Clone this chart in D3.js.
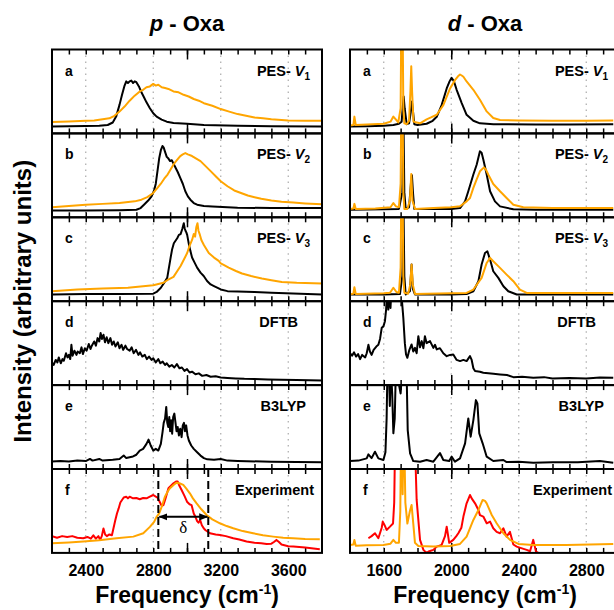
<!DOCTYPE html>
<html>
<head>
<meta charset="utf-8">
<script src="https://cdn.jsdelivr.net/npm/d3@7"></script>
<style>
  body { margin: 0; background: #fff; }
  text { font-family: "Liberation Sans", Arial, Helvetica, sans-serif; font-weight: bold; fill: #000; }
</style>
</head>
<body>
<svg id="chart" width="614" height="610"></svg>
<script>
// ---- values: [frequency cm-1, relative intensity in panel] ----
var p_a_black = [[2200,.083],[2300,.085],[2400,.087],[2480,.09],[2530,.1],[2560,.13],[2580,.2],[2600,.34],[2615,.46],[2630,.57],[2640,.62],[2650,.6],[2660,.62],[2670,.63],[2680,.6],[2690,.62],[2700,.61],[2715,.56],[2730,.49],[2745,.43],[2760,.37],[2780,.3],[2800,.24],[2820,.2],[2850,.165],[2880,.14],[2920,.125],[3000,.115],[3100,.1],[3300,.09],[3500,.085],[3800,.083]];
var p_a_orange = [[2200,.135],[2300,.143],[2400,.15],[2450,.155],[2500,.17],[2540,.18],[2570,.21],[2600,.26],[2630,.32],[2660,.39],[2690,.45],[2720,.5],[2740,.52],[2760,.55],[2780,.56],[2800,.59],[2815,.57],[2830,.58],[2850,.55],[2870,.54],[2890,.53],[2920,.5],[2950,.49],[2980,.46],[3010,.44],[3040,.41],[3070,.39],[3100,.36],[3150,.33],[3200,.29],[3250,.26],[3300,.23],[3350,.21],[3400,.19],[3450,.18],[3500,.17],[3600,.155],[3700,.15],[3800,.15]];
var p_b_black = [[2200,.08],[2400,.08],[2600,.085],[2700,.09],[2725,.11],[2745,.15],[2770,.2],[2790,.25],[2805,.32],[2815,.4],[2825,.55],[2835,.7],[2845,.8],[2855,.85],[2862,.83],[2870,.78],[2880,.72],[2890,.7],[2900,.67],[2910,.68],[2920,.64],[2930,.6],[2945,.54],[2960,.47],[2975,.4],[2990,.31],[3005,.25],[3020,.21],[3040,.17],[3060,.15],[3100,.135],[3150,.13],[3300,.115],[3500,.11],[3800,.11]];
var p_b_orange = [[2200,.12],[2300,.135],[2400,.15],[2500,.16],[2600,.17],[2690,.19],[2730,.21],[2765,.24],[2800,.29],[2825,.35],[2845,.4],[2865,.46],[2885,.51],[2900,.56],[2920,.63],[2940,.68],[2960,.73],[2975,.75],[2990,.765],[3005,.75],[3030,.73],[3055,.7],[3080,.67],[3110,.61],[3140,.55],[3170,.49],[3200,.43],[3240,.37],[3280,.32],[3320,.29],[3360,.26],[3400,.24],[3440,.22],[3500,.2],[3560,.185],[3630,.175],[3700,.165],[3800,.155]];
var p_c_black = [[2200,.08],[2400,.085],[2600,.085],[2800,.09],[2820,.11],[2845,.16],[2865,.22],[2883,.28],[2893,.4],[2903,.52],[2912,.62],[2922,.69],[2932,.72],[2942,.75],[2952,.79],[2962,.8],[2972,.86],[2981,.93],[2986,.87],[2991,.84],[2996,.82],[3001,.79],[3011,.68],[3020,.6],[3030,.52],[3045,.46],[3060,.4],[3080,.34],[3099,.3],[3119,.24],[3140,.2],[3160,.18],[3200,.14],[3240,.12],[3300,.115],[3400,.11],[3500,.1],[3800,.08]];
var p_c_orange = [[2200,.12],[2350,.14],[2500,.15],[2650,.16],[2800,.19],[2860,.22],[2883,.25],[2920,.29],[2962,.42],[2990,.53],[3001,.575],[3015,.66],[3030,.73],[3040,.8],[3048,.77],[3055,.88],[3062,.93],[3068,.84],[3075,.8],[3085,.73],[3100,.67],[3129,.575],[3160,.52],[3188,.48],[3200,.45],[3220,.43],[3247,.4],[3290,.36],[3326,.33],[3380,.3],[3444,.27],[3500,.25],[3562,.23],[3650,.22],[3800,.21]];
var p_d_dftb = [[2200,.27],[2210,.24],[2222,.3],[2232,.27],[2240,.33],[2252,.26],[2262,.31],[2270,.29],[2283,.38],[2292,.33],[2300,.36],[2308,.31],[2315,.48],[2322,.35],[2333,.41],[2345,.36],[2352,.4],[2365,.38],[2375,.45],[2383,.37],[2395,.44],[2405,.41],[2418,.49],[2428,.43],[2436,.47],[2450,.52],[2460,.47],[2470,.56],[2480,.52],[2488,.62],[2496,.55],[2505,.6],[2514,.51],[2524,.57],[2534,.5],[2546,.56],[2556,.48],[2566,.52],[2576,.46],[2590,.51],[2600,.44],[2612,.48],[2622,.42],[2635,.47],[2645,.43],[2660,.41],[2672,.45],[2684,.38],[2698,.42],[2712,.36],[2722,.39],[2735,.34],[2750,.36],[2762,.31],[2775,.34],[2790,.3],[2800,.32],[2815,.27],[2830,.31],[2842,.26],[2856,.28],[2870,.24],[2880,.26],[2895,.22],[2910,.24],[2925,.21],[2940,.25],[2955,.2],[2970,.21],[2985,.17],[3000,.19],[3015,.15],[3030,.16],[3050,.13],[3070,.14],[3090,.11],[3115,.12],[3140,.1],[3170,.105],[3200,.09],[3240,.085],[3290,.08],[3340,.075],[3400,.072],[3480,.068],[3560,.064],[3650,.06],[3800,.056]];
var p_e_b3lyp = [[2200,.09],[2250,.095],[2300,.09],[2350,.1],[2400,.095],[2425,.12],[2440,.1],[2480,.12],[2500,.1],[2560,.11],[2600,.12],[2625,.16],[2640,.13],[2680,.15],[2700,.17],[2720,.22],[2740,.24],[2760,.3],[2772,.35],[2785,.28],[2800,.22],[2815,.24],[2830,.22],[2845,.3],[2855,.44],[2862,.55],[2870,.6],[2877,.74],[2883,.55],[2889,.5],[2895,.62],[2900,.45],[2906,.58],[2912,.42],[2918,.62],[2925,.66],[2932,.55],[2938,.45],[2945,.5],[2952,.4],[2960,.48],[2968,.38],[2975,.52],[2982,.55],[2988,.45],[2995,.52],[3003,.4],[3011,.34],[3025,.28],[3040,.24],[3060,.2],[3080,.16],[3100,.13],[3120,.115],[3160,.11],[3200,.12],[3240,.1],[3300,.095],[3500,.087],[3800,.08]];
var p_f_red = [[2200,.2],[2230,.18],[2260,.2],[2290,.19],[2320,.2],[2350,.18],[2385,.175],[2410,.19],[2430,.17],[2445,.21],[2460,.17],[2475,.2],[2485,.155],[2495,.2],[2505,.29],[2515,.22],[2525,.2],[2540,.22],[2555,.21],[2565,.3],[2575,.39],[2585,.47],[2595,.53],[2605,.6],[2615,.63],[2625,.66],[2640,.67],[2650,.65],[2660,.67],[2680,.65],[2700,.655],[2720,.64],[2740,.655],[2760,.65],[2780,.67],[2800,.69],[2815,.67],[2825,.66],[2840,.6],[2850,.56],[2860,.57],[2870,.63],[2880,.7],[2890,.77],[2905,.8],[2920,.83],[2935,.85],[2945,.85],[2955,.8],[2968,.75],[2985,.68],[3000,.61],[3015,.58],[3027,.57],[3040,.47],[3050,.43],[3060,.38],[3068,.36],[3078,.39],[3088,.33],[3100,.29],[3110,.27],[3136,.234],[3170,.22],[3195,.214],[3230,.2],[3274,.175],[3310,.16],[3353,.135],[3400,.12],[3440,.115],[3472,.107],[3500,.11],[3515,.13],[3530,.155],[3545,.13],[3560,.1],[3600,.08],[3630,.075],[3700,.065],[3787,.044]];
var p_f_orange = [[2200,.115],[2300,.125],[2385,.135],[2480,.15],[2582,.175],[2682,.194],[2741,.234],[2780,.31],[2805,.37],[2820,.43],[2835,.47],[2850,.55],[2869,.67],[2885,.73],[2899,.77],[2920,.81],[2938,.837],[2955,.83],[2978,.81],[2995,.77],[3017,.71],[3035,.65],[3057,.59],[3085,.52],[3116,.452],[3150,.4],[3195,.353],[3235,.32],[3274,.294],[3330,.26],[3392,.234],[3450,.21],[3511,.194],[3570,.18],[3629,.175],[3700,.165],[3787,.163]];

var d_a_black = [[1400,.083],[1500,.085],[1600,.09],[1657,.1],[1690,.115],[1706,.14],[1712,.3],[1718,.44],[1724,.3],[1736,.11],[1750,.12],[1760,.25],[1767,.38],[1774,.25],[1781,.11],[1800,.1],[1854,.115],[1890,.15],[1914,.198],[1943,.337],[1973,.536],[1990,.62],[2002,.663],[2016,.62],[2032,.52],[2062,.361],[2091,.222],[2131,.151],[2170,.12],[2250,.11],[2500,.105],[2700,.105],[2960,.11]];
var d_a_orange = [[1400,.095],[1420,.1],[1426,.2],[1434,.1],[1500,.105],[1600,.115],[1640,.14],[1657,.2],[1670,.17],[1686,.13],[1700,.3],[1704,1.3],[1712,1.3],[1716,.3],[1722,.12],[1736,.11],[1750,.15],[1758,.5],[1763,.8],[1768,.5],[1776,.14],[1795,.13],[1815,.12],[1854,.167],[1880,.19],[1914,.222],[1953,.337],[1993,.536],[2022,.635],[2040,.68],[2052,.702],[2062,.69],[2072,.675],[2091,.619],[2131,.52],[2170,.401],[2210,.262],[2249,.183],[2289,.16],[2400,.155],[2600,.15],[2800,.152],[2960,.155]];
var d_b_black = [[1400,.09],[1600,.095],[1690,.1],[1710,.3],[1716,1.3],[1722,.3],[1730,.1],[1750,.12],[1761,.4],[1767,.5],[1773,.3],[1781,.1],[1850,.1],[2000,.1],[2052,.11],[2082,.19],[2101,.31],[2131,.51],[2151,.63],[2170,.786],[2180,.77],[2190,.69],[2210,.51],[2230,.31],[2259,.19],[2289,.13],[2368,.095],[2500,.09],[2960,.09]];
var d_b_orange = [[1400,.1],[1420,.105],[1426,.16],[1434,.1],[1550,.105],[1640,.12],[1657,.17],[1672,.13],[1690,.12],[1700,.4],[1704,1.3],[1712,1.3],[1716,.3],[1722,.1],[1740,.1],[1755,.2],[1763,.515],[1770,.2],[1785,.1],[1894,.111],[2000,.12],[2052,.131],[2091,.19],[2111,.23],[2131,.35],[2150,.45],[2170,.548],[2194,.595],[2205,.57],[2220,.508],[2249,.397],[2289,.31],[2328,.23],[2368,.15],[2427,.12],[2600,.11],[2960,.11]];
var d_c_black = [[1400,.08],[1600,.08],[1696,.085],[1710,.3],[1716,1.3],[1722,.3],[1730,.08],[1755,.12],[1765,.437],[1772,.15],[1785,.08],[2000,.08],[2091,.085],[2131,.119],[2161,.238],[2180,.437],[2200,.575],[2214,.595],[2230,.496],[2249,.357],[2279,.278],[2309,.179],[2338,.119],[2388,.08],[2600,.08],[2960,.08]];
var d_c_orange = [[1400,.087],[1420,.09],[1426,.167],[1434,.087],[1600,.095],[1637,.1],[1657,.16],[1675,.11],[1690,.1],[1700,.4],[1704,1.3],[1712,1.3],[1716,.3],[1722,.1],[1745,.09],[1757,.2],[1765,.437],[1772,.2],[1785,.087],[2000,.095],[2091,.099],[2131,.139],[2180,.278],[2210,.456],[2230,.516],[2249,.476],[2289,.397],[2328,.317],[2368,.238],[2407,.139],[2447,.099],[2600,.099],[2960,.099]];
var d_d_dftb = [[1400,.38],[1412,.35],[1424,.39],[1436,.34],[1448,.37],[1460,.31],[1472,.36],[1490,.33],[1499,.38],[1509,.48],[1518,.4],[1528,.36],[1540,.42],[1556,.46],[1568,.48],[1578,.55],[1588,.683],[1598,.7],[1607,.762],[1614,.9],[1621,1.2],[1627,.9],[1633,1.2],[1640,.92],[1647,1.2],[1655,1.2],[1680,1.2],[1700,1.2],[1716,.802],[1725,.5],[1732,.365],[1740,.325],[1752,.42],[1765,.484],[1775,.4],[1785,.444],[1795,.38],[1805,.583],[1815,.45],[1825,.524],[1835,.44],[1844,.583],[1854,.5],[1874,.524],[1894,.444],[1904,.48],[1914,.425],[1933,.44],[1953,.38],[1973,.345],[1993,.36],[2012,.365],[2032,.3],[2052,.286],[2072,.3],[2091,.286],[2111,.345],[2121,.3],[2131,.2],[2141,.167],[2170,.16],[2190,.147],[2250,.135],[2289,.127],[2330,.12],[2368,.095],[2420,.1],[2486,.087],[2550,.095],[2600,.079],[2700,.085],[2800,.08],[2881,.09],[2960,.087]];
var d_e_b3lyp = [[1400,.095],[1450,.1],[1499,.127],[1509,.175],[1528,.13],[1548,.206],[1568,.127],[1598,.107],[1610,.2],[1617,.6],[1622,1.2],[1630,1.2],[1636,.75],[1642,1.2],[1650,.9],[1657,.425],[1665,.6],[1672,1.2],[1700,.9],[1710,1.2],[1735,1.2],[1742,.464],[1756,.187],[1775,.095],[1815,.087],[1854,.107],[1894,.087],[1933,.19],[1953,.107],[1988,.095],[2002,.147],[2022,.087],[2052,.127],[2082,.306],[2101,.603],[2115,.385],[2131,.583],[2146,.821],[2155,.782],[2166,.425],[2186,.306],[2210,.147],[2249,.095],[2309,.107],[2328,.083],[2400,.085],[2486,.075],[2600,.08],[2750,.08],[2881,.095],[2960,.075]];
var d_f_red = [[1509,.175],[1528,.2],[1548,.234],[1568,.175],[1588,.3],[1594,.373],[1605,.33],[1617,.274],[1637,.313],[1655,.35],[1662,.6],[1667,1.3],[1785,1.3],[1795,.631],[1815,.155],[1835,.036],[1854,0],[1870,.02],[1894,.036],[1914,.075],[1943,.095],[1963,.2],[1973,.313],[1988,.12],[2012,.155],[2030,.2],[2042,.234],[2060,.3],[2072,.433],[2091,.591],[2111,.69],[2121,.65],[2141,.591],[2161,.512],[2170,.45],[2190,.433],[2210,.353],[2230,.373],[2249,.294],[2269,.25],[2289,.234],[2309,.294],[2328,.194],[2348,.25],[2368,.1],[2388,.075],[2410,.06],[2447,.036],[2467,.02],[2486,.155],[2502,.016],[2516,0]];
var d_f_orange = [[1400,.095],[1420,.1],[1426,.155],[1434,.085],[1499,.09],[1598,.095],[1640,.11],[1657,.155],[1672,.12],[1690,.12],[1698,.5],[1702,1.3],[1708,1.3],[1712,.7],[1716,1.3],[1722,1.3],[1728,.6],[1740,.35],[1755,.5],[1765,.571],[1775,.35],[1785,.12],[1805,.083],[1894,.075],[1993,.083],[2052,.107],[2091,.194],[2131,.393],[2161,.512],[2186,.631],[2200,.62],[2210,.591],[2240,.452],[2269,.353],[2309,.234],[2348,.155],[2398,.107],[2486,.095],[2684,.095],[2960,.107]];

var panelLetters = ["a", "b", "c", "d", "e", "f"];
var methods = ["PES-V1", "PES-V2", "PES-V3", "DFTB", "B3LYP", "Experiment"];
var pTicks = [2400, 2800, 3200, 3600];
var dTicks = [1600, 2000, 2400, 2800];
var deltaBounds = [2830, 3126];   // dashed lines in p-Oxa experiment panel

// ---- layout ----
var width = 614, height = 610;
var plotTop = 49.5, panelH = 83.9, plotW = 270;
var bottom = plotTop + 6 * panelH;
var labelInset = { "PES-V1": 12, "PES-V2": 12, "PES-V3": 12, "DFTB": 24, "B3LYP": 16, "Experiment": 8 };

var svg = d3.select("#chart");

var defs = svg.append("defs");
defs.append("marker")
  .attr("id", "arr")
  .attr("viewBox", "0 0 10 10")
  .attr("refX", 9).attr("refY", 5)
  .attr("markerWidth", 9).attr("markerHeight", 9)
  .attr("markerUnits", "userSpaceOnUse")
  .attr("orient", "auto-start-reverse")
  .append("path").attr("d", "M0,1L10,5L0,9Z").attr("fill", "#000");

var columns = [
  { name: "p", left: 52, domain: [2200, 3800], ticks: pTicks, longTick: 3000,
    series: [
      [[p_a_black, "#000"], [p_a_orange, "#ffa500"]],
      [[p_b_black, "#000"], [p_b_orange, "#ffa500"]],
      [[p_c_black, "#000"], [p_c_orange, "#ffa500"]],
      [[p_d_dftb, "#000"]],
      [[p_e_b3lyp, "#000"]],
      [[p_f_red, "#ff0000"], [p_f_orange, "#ffa500"]]
    ] },
  { name: "d", left: 350, domain: [1400, 3000], ticks: dTicks, longTick: 2000,
    series: [
      [[d_a_black, "#000"], [d_a_orange, "#ffa500"]],
      [[d_b_black, "#000"], [d_b_orange, "#ffa500"]],
      [[d_c_black, "#000"], [d_c_orange, "#ffa500"]],
      [[d_d_dftb, "#000"]],
      [[d_e_b3lyp, "#000"]],
      [[d_f_red, "#ff0000"], [d_f_orange, "#ffa500"]]
    ] }
];

columns.forEach(function (col, ci) {
  var x = d3.scaleLinear().domain(col.domain).range([col.left, col.left + plotW]);
  var cx = col.left + plotW / 2;
  var minor = d3.range(col.domain[0] + 100, col.domain[1], 100);

  // column title
  var t = svg.append("text")
    .attr("x", cx).attr("y", 31)
    .attr("text-anchor", "middle")
    .style("font-size", "22px");
  t.append("tspan").style("font-style", "italic").text(col.name);
  t.append("tspan").text(" - Oxa");

  for (var i = 0; i < 6; i++) {
    var top = plotTop + i * panelH;
    var y = d3.scaleLinear().domain([0, 1]).range([top + panelH, top]);
    var g = svg.append("g");
    var clipId = "clip-" + ci + "-" + i;

    g.append("clipPath").attr("id", clipId)
      .append("rect")
      .attr("x", col.left).attr("y", top)
      .attr("width", plotW).attr("height", panelH);

    // dotted grid
    g.selectAll(".grid")
      .data(col.ticks)
      .enter().append("line")
      .attr("x1", x).attr("x2", x)
      .attr("y1", top).attr("y2", top + panelH)
      .attr("stroke", "#aaa")
      .attr("stroke-width", 1.2)
      .attr("stroke-dasharray", "1.5,4.5");

    // inward ticks, top and bottom
    g.append("g")
      .attr("transform", "translate(0," + top + ")")
      .call(d3.axisBottom(x).tickValues(minor).tickSize(5).tickFormat(""))
      .call(function (a) { a.select(".domain").remove(); });
    g.append("g")
      .attr("transform", "translate(0," + (top + panelH) + ")")
      .call(d3.axisTop(x).tickValues(minor).tickSize(5).tickFormat(""))
      .call(function (a) { a.select(".domain").remove(); });
    g.append("g")
      .attr("transform", "translate(0," + top + ")")
      .call(d3.axisBottom(x).tickValues([col.longTick]).tickSize(10).tickFormat(""))
      .call(function (a) { a.select(".domain").remove(); });
    g.append("g")
      .attr("transform", "translate(0," + (top + panelH) + ")")
      .call(d3.axisTop(x).tickValues([col.longTick]).tickSize(10).tickFormat(""))
      .call(function (a) { a.select(".domain").remove(); });
    g.selectAll(".tick line").attr("stroke", "#000").attr("stroke-width", 1.5);

    // spectra
    var line = d3.line()
      .x(function (d) { return x(d[0]); })
      .y(function (d) { return y(d[1]); });

    var curves = g.append("g").attr("clip-path", "url(#" + clipId + ")");
    col.series[i].forEach(function (s) {
      curves.append("path")
        .datum(s[0])
        .attr("d", line)
        .attr("fill", "none")
        .attr("stroke", s[1])
        .attr("stroke-width", 2)
        .attr("stroke-linejoin", "round");
    });

    // delta marker in p-Oxa experiment panel
    if (ci === 0 && i === 5) {
      g.selectAll(".dash")
        .data(deltaBounds)
        .enter().append("line")
        .attr("x1", x).attr("x2", x)
        .attr("y1", top).attr("y2", top + panelH)
        .attr("stroke", "#000").attr("stroke-width", 2)
        .attr("stroke-dasharray", "8,4");
      g.append("line")
        .attr("x1", x(deltaBounds[0]) + 1).attr("x2", x(deltaBounds[1]) - 1)
        .attr("y1", y(0.43)).attr("y2", y(0.43))
        .attr("stroke", "#000").attr("stroke-width", 2)
        .attr("marker-start", "url(#arr)")
        .attr("marker-end", "url(#arr)");
      g.append("text")
        .attr("x", x((deltaBounds[0] + deltaBounds[1]) / 2))
        .attr("y", y(0.24))
        .attr("text-anchor", "middle")
        .style("font-family", "'Liberation Serif', 'Times New Roman', serif")
        .style("font-weight", "normal")
        .style("font-size", "17px")
        .text("δ");
    }

    // frame
    g.append("rect")
      .attr("x", col.left).attr("y", top)
      .attr("width", plotW).attr("height", panelH)
      .attr("fill", "none")
      .attr("stroke", "#000")
      .attr("stroke-width", 2);

    // labels
    g.append("text")
      .attr("x", col.left + 13).attr("y", top + 26)
      .style("font-size", "14px")
      .text(panelLetters[i]);

    var m = methods[i];
    var lab = g.append("text")
      .attr("x", col.left + plotW - labelInset[m]).attr("y", top + 26)
      .attr("text-anchor", "end")
      .style("font-size", "14.5px");
    if (m.indexOf("PES-V") === 0) {
      lab.append("tspan").text("PES- ");
      lab.append("tspan").style("font-style", "italic").text("V");
      lab.append("tspan").attr("dy", 4).style("font-size", "10px").text(m.slice(5));
    } else {
      lab.text(m);
    }
  }

  // tick labels
  svg.append("g")
    .attr("transform", "translate(0," + bottom + ")")
    .call(d3.axisBottom(x).tickValues(col.ticks).tickSize(0).tickPadding(12).tickFormat(d3.format("d")))
    .call(function (a) {
      a.select(".domain").remove();
      a.selectAll("text")
        .style("font-family", "'Liberation Sans', Arial, sans-serif")
        .style("font-weight", "bold")
        .style("font-size", "16px")
        .attr("fill", "#000");
    });

  // x title
  var xt = svg.append("text")
    .attr("x", cx).attr("y", 603)
    .attr("text-anchor", "middle")
    .style("font-size", "23px");
  xt.append("tspan").text("Frequency (cm");
  xt.append("tspan").attr("dy", -9).style("font-size", "14px").text("-1");
  xt.append("tspan").attr("dy", 9).text(")");
});

// y title
svg.append("text")
  .attr("transform", "translate(31," + (plotTop + 3 * panelH) + ") rotate(-90)")
  .attr("text-anchor", "middle")
  .style("font-size", "24px")
  .text("Intensity (arbitrary units)");
</script>
</body>
</html>
